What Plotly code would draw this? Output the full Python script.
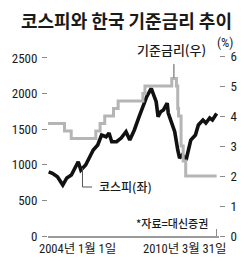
import plotly.graph_objects as go

# ---- data ----
kospi_dates = ["2004-01-10", "2004-03-01", "2004-05-08", "2004-07-20", "2004-09-12", "2004-11-13",
               "2005-02-14", "2005-03-22", "2005-05-26", "2005-07-27", "2005-09-06", "2005-11-06",
               "2005-12-28", "2006-02-28", "2006-04-08", "2006-05-15", "2006-07-20", "2006-09-20",
               "2006-11-25", "2007-01-15", "2007-03-18", "2007-05-22", "2007-07-22", "2007-09-02",
               "2007-11-02", "2007-12-13", "2008-01-08", "2008-02-03", "2008-03-10", "2008-04-16",
               "2008-06-06", "2008-06-20", "2008-08-12", "2008-09-16", "2008-10-27", "2008-11-21",
               "2008-12-28", "2009-02-17", "2009-04-22", "2009-06-24", "2009-08-03", "2009-10-04",
               "2009-11-13", "2010-01-04", "2010-02-10", "2010-03-20", "2010-04-08"]
kospi_values = [900, 880, 833, 716, 815, 857,
                1043, 927, 997, 1138, 1208, 1278,
                1418, 1394, 1446, 1324, 1324, 1376,
                1465, 1348, 1489, 1676, 1866, 1957,
                2074, 1938, 1886, 1676, 1746, 1770,
                1866, 1727, 1587, 1465, 1208, 1095,
                1138, 1067, 1348, 1418, 1559, 1629,
                1587, 1657, 1629, 1699, 1720]

rate_dates = ["2004-01-01", "2004-08-12", "2004-11-11", "2005-10-11", "2005-12-08", "2006-02-09",
              "2006-06-08", "2006-08-10", "2007-07-12", "2007-08-09", "2008-08-07", "2008-10-09",
              "2008-10-27", "2008-11-07", "2008-12-11", "2009-01-09", "2009-02-12", "2010-04-08"]
rate_values = [3.75, 3.50, 3.25, 3.50, 3.75, 4.00,
               4.25, 4.50, 4.75, 5.00, 5.25, 5.00,
               4.25, 4.00, 3.00, 2.50, 2.00, 2.00]

left_ticks = [0, 500, 1000, 1500, 2000, 2500]
right_ticks = [0, 1, 2, 3, 4, 5, 6]
x_tick_dates = ["2004-01-01", "2010-03-31"]
x_tick_labels = ["2004년 1월 1일", "2010년 3월 31일"]

title_text = "코스피와 한국 기준금리 추이"
rate_label = "기준금리(우)"
kospi_label = "코스피(좌)"
source_text = "*자료=대신증권"

KR = "Noto Sans CJK KR"
NUM = "Liberation Sans Narrow, Roboto Condensed, Noto Sans CJK KR"
TXT = "#1a1a1a"
GRAY_TICK = "#8a8a8a"

fig = go.Figure()
fig.add_trace(go.Scatter(x=rate_dates, y=rate_values, yaxis="y2", mode="lines",
                         line=dict(color="#b5b5b5", width=3, shape="hv"), hoverinfo="skip"))
fig.add_trace(go.Scatter(x=kospi_dates, y=kospi_values, mode="lines",
                         line=dict(color="#111111", width=3.6), hoverinfo="skip"))

# leader lines
fig.add_shape(type="line", xref="x", yref="y2", x0="2008-09-05", x1="2008-09-05", y0=5.73, y1=5.28,
              line=dict(color="#555555", width=1))
fig.add_shape(type="line", xref="x", yref="y", x0="2005-04-13", x1="2005-04-13", y0=955, y1=688,
              line=dict(color="#555555", width=1))
fig.add_shape(type="line", xref="x", yref="y", x0="2005-04-13", x1="2005-08-22", y0=688, y1=688,
              line=dict(color="#555555", width=1))

fig.update_layout(
    width=250, height=261,
    margin=dict(l=40, r=28, t=56, b=25),
    paper_bgcolor="white", plot_bgcolor="white",
    showlegend=False,
    xaxis=dict(type="date", range=["2004-01-01", "2010-05-10"], showgrid=False, zeroline=False,
               showline=True, linecolor="#9a9a9a", linewidth=1.5,
               tickvals=x_tick_dates, ticks="inside", ticklen=7, tickcolor=GRAY_TICK,
               showticklabels=False),
    yaxis=dict(range=[0, 2528], tickvals=left_ticks, showgrid=False, zeroline=False, showline=False,
               ticks="outside", ticklen=5, tickcolor=GRAY_TICK, ticklabelstandoff=2,
               tickfont=dict(family=NUM, size=13, color=TXT)),
    yaxis2=dict(range=[0, 6], overlaying="y", side="right", tickvals=right_ticks, showgrid=False,
                zeroline=False, showline=False, ticks="outside", ticklen=5, tickcolor=GRAY_TICK,
                ticklabelstandoff=3, tickfont=dict(family=NUM, size=13, color=TXT)),
)

def px_x(px):
    return (px - 40) / 182.0

def px_y(py):
    return (236 - py) / 180.0

annotations = [
    dict(text=title_text, x=px_x(124), y=px_y(20), xanchor="center", yanchor="middle",
         font=dict(family=KR, size=18, color=TXT, weight="bold")),
    dict(text="(%)", x=px_x(228), y=px_y(42), xanchor="center", yanchor="middle",
         font=dict(family=NUM, size=13, color=TXT)),
    dict(text=rate_label, x=px_x(171), y=px_y(50), xanchor="center", yanchor="middle",
         font=dict(family=KR, size=13, color=TXT, weight=500)),
    dict(text=kospi_label, x=px_x(92), y=px_y(186), xanchor="left", yanchor="middle",
         font=dict(family=KR, size=12, color=TXT, weight=500)),
    dict(text=source_text, x=px_x(172), y=px_y(223), xanchor="center", yanchor="middle",
         font=dict(family=KR, size=11, color=TXT, weight=500)),
]
for a in annotations:
    a.update(xref="paper", yref="paper", showarrow=False)

for d, lab, anchor, shift in zip(x_tick_dates, x_tick_labels, ["left", "right"], [-11, 12]):
    annotations.append(dict(text=lab, x=d, xref="x", y=px_y(248), yref="paper", showarrow=False,
                            xanchor=anchor, yanchor="middle", xshift=shift,
                            font=dict(family=NUM, size=12.5, color=TXT)))

fig.update_layout(annotations=annotations)
fig.write_html("out.html")
